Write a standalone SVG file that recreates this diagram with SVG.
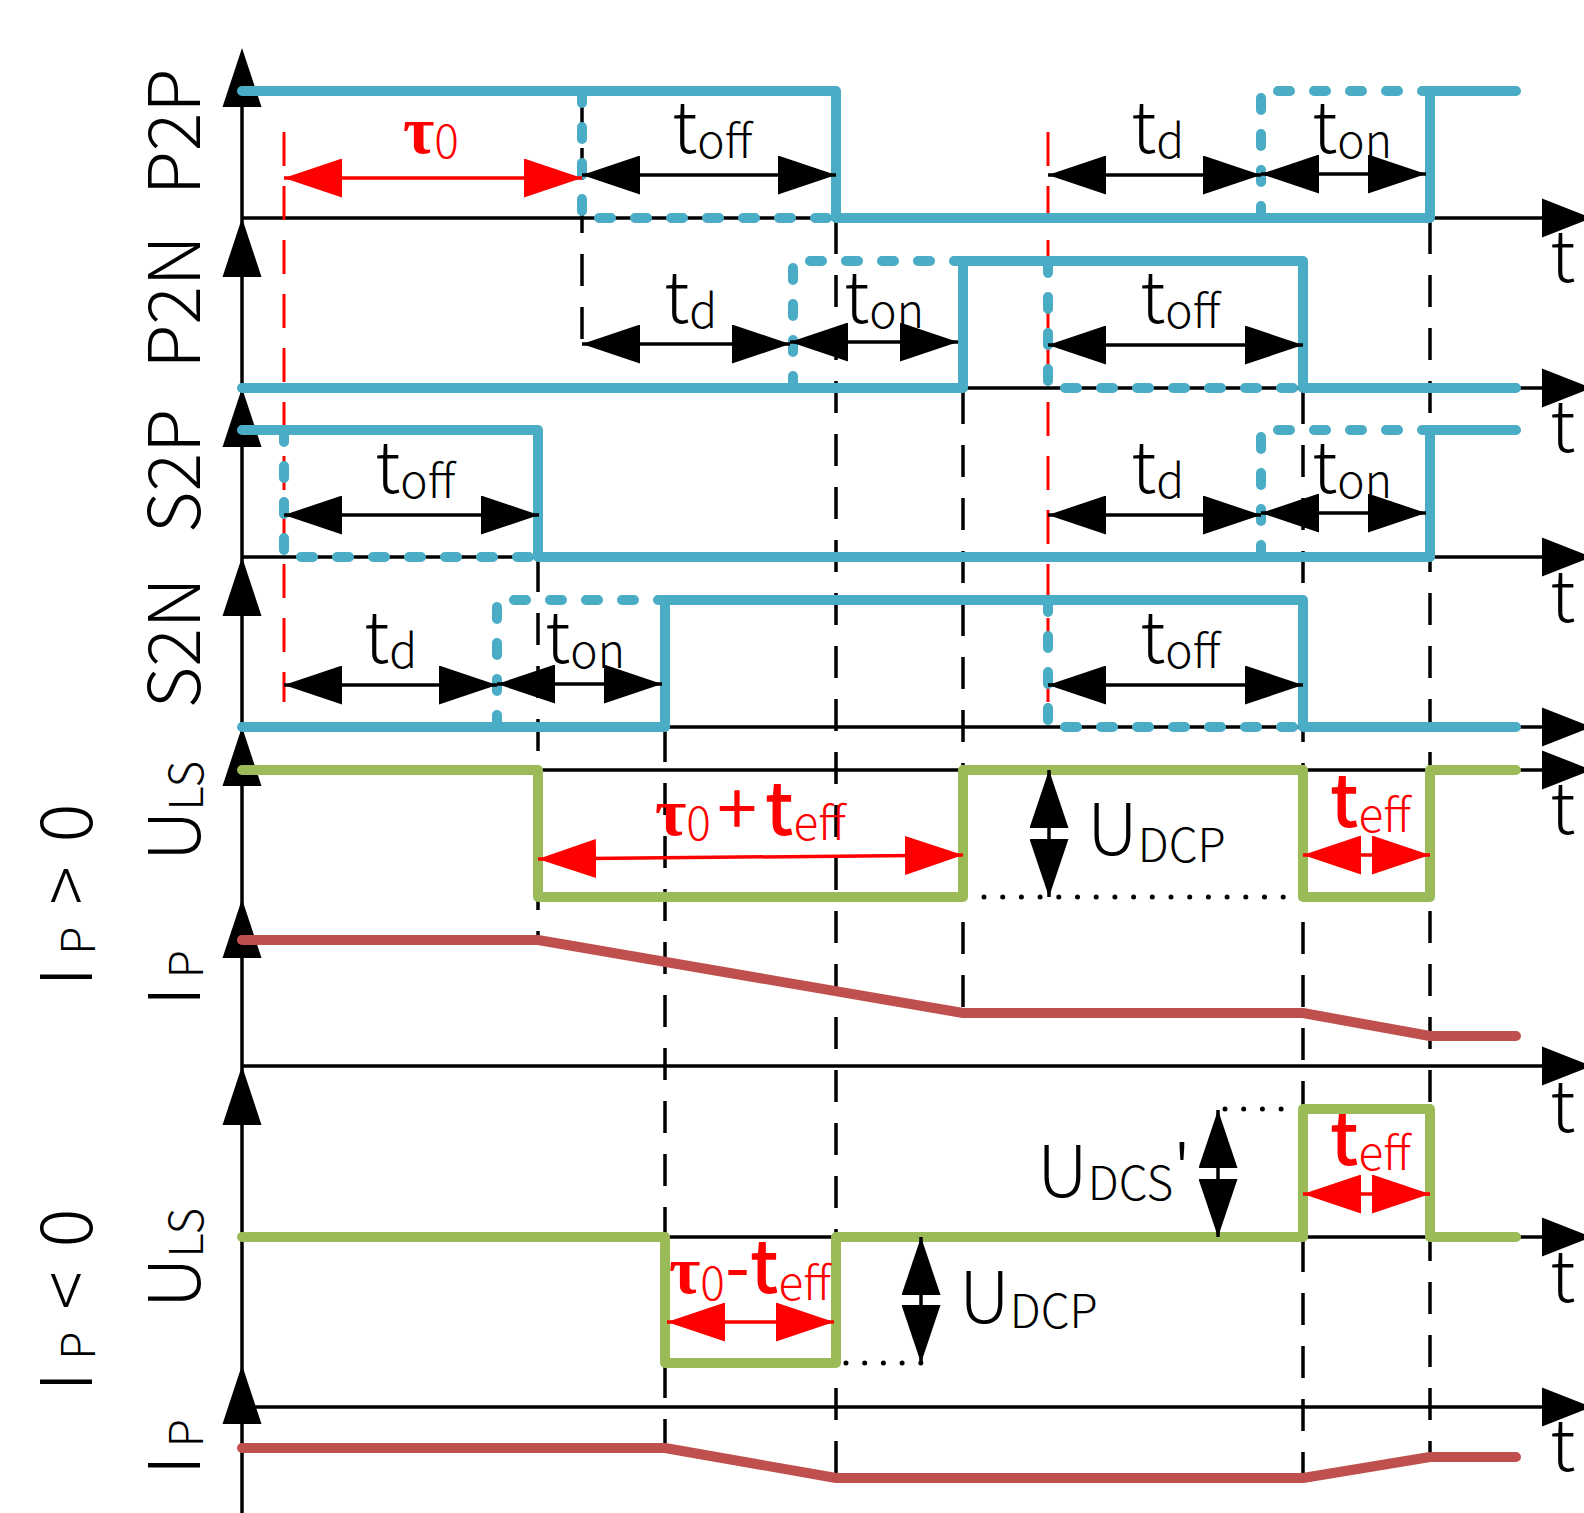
<svg xmlns="http://www.w3.org/2000/svg" xmlns:xlink="http://www.w3.org/1999/xlink" width="1584" height="1513" viewBox="0 0 1584 1513">
<style>
.ax{stroke:#000;stroke-width:3.5;fill:none}
.gd{stroke:#000;stroke-width:3.5;fill:none;stroke-dasharray:32 21}
.rd{stroke:#ff0000;stroke-width:3;fill:none;stroke-dasharray:34 20}
.bl{stroke:#4bacc6;stroke-width:10;fill:none;stroke-linecap:round;stroke-linejoin:round}
.bd{stroke:#4bacc6;stroke-width:10;fill:none;stroke-linecap:round;stroke-linejoin:round;stroke-dasharray:12 24}
.gr{stroke:#9bbb59;stroke-width:10;fill:none;stroke-linecap:round;stroke-linejoin:round}
.rb{stroke:#c0504d;stroke-width:10;fill:none;stroke-linecap:round;stroke-linejoin:round}
.dA{stroke:#000;stroke-width:3.5;fill:none;marker-start:url(#aB);marker-end:url(#aB)}
.rA{stroke:#ff0000;stroke-width:3.5;fill:none;marker-start:url(#aR);marker-end:url(#aR)}
.dot{stroke:#000;stroke-width:5;fill:none;stroke-linecap:round;stroke-dasharray:0 18.7}
text{font-family:'Noto Sans CJK JP','Noto Sans',sans-serif;font-weight:300;font-size:72px;fill:#000}
.sub{font-size:46px}
.red{fill:#ff0000}
.tau{font-family:'Liberation Serif',serif;font-weight:bold;font-size:68px}
.bt{font-weight:500}
.pl{font-weight:400}
</style>
<defs>
<marker id="aB" markerUnits="userSpaceOnUse" markerWidth="58" markerHeight="39" viewBox="0 0 58 39" refX="58" refY="19.5" orient="auto-start-reverse"><path d="M0,0 L58,19.5 L0,39 Z" fill="#000"/></marker>
<marker id="aR" markerUnits="userSpaceOnUse" markerWidth="58" markerHeight="39" viewBox="0 0 58 39" refX="58" refY="19.5" orient="auto-start-reverse"><path d="M0,0 L58,19.5 L0,39 Z" fill="#ff0000"/></marker>
<path id="ahUp" d="M0,0 L19.5,59 L-19.5,59 Z" fill="#000"/>
<path id="ahR" d="M0,0 L-50,-19.5 L-50,19.5 Z" fill="#000"/>
</defs>

<g id="axes">
<line class="ax" x1="242" y1="60" x2="242" y2="1513"/>
<line class="ax" x1="242" y1="218" x2="1560" y2="218"/>
<line class="ax" x1="242" y1="388" x2="1560" y2="388"/>
<line class="ax" x1="242" y1="557" x2="1560" y2="557"/>
<line class="ax" x1="242" y1="727" x2="1560" y2="727"/>
<line class="ax" x1="242" y1="770" x2="1560" y2="770"/>
<line class="ax" x1="242" y1="1066" x2="1560" y2="1066"/>
<line class="ax" x1="242" y1="1237" x2="1560" y2="1237"/>
<line class="ax" x1="242" y1="1407" x2="1560" y2="1407"/>
<use xlink:href="#ahUp" x="242" y="48"/>
<use xlink:href="#ahUp" x="242" y="218"/>
<use xlink:href="#ahUp" x="242" y="388"/>
<use xlink:href="#ahUp" x="242" y="557"/>
<use xlink:href="#ahUp" x="242" y="727"/>
<use xlink:href="#ahUp" x="242" y="899"/>
<use xlink:href="#ahUp" x="242" y="1066"/>
<use xlink:href="#ahUp" x="242" y="1365"/>
<use xlink:href="#ahR" x="1592" y="218"/>
<use xlink:href="#ahR" x="1592" y="388"/>
<use xlink:href="#ahR" x="1592" y="557"/>
<use xlink:href="#ahR" x="1592" y="727"/>
<use xlink:href="#ahR" x="1592" y="770"/>
<use xlink:href="#ahR" x="1592" y="1066"/>
<use xlink:href="#ahR" x="1592" y="1237"/>
<use xlink:href="#ahR" x="1592" y="1407"/>
</g>

<g id="guides">
<line class="gd" x1="582" y1="95" x2="582" y2="344"/>
<line class="gd" x1="538" y1="560" x2="538" y2="940"/>
<line class="gd" x1="665" y1="730" x2="665" y2="1448"/>
<line class="gd" x1="836" y1="222" x2="836" y2="1478"/>
<line class="gd" x1="963" y1="392" x2="963" y2="1013"/>
<line class="gd" x1="1303" y1="392" x2="1303" y2="1478"/>
<line class="gd" x1="1430" y1="222" x2="1430" y2="1457"/>
<line class="rd" x1="284" y1="132" x2="284" y2="702"/>
<line class="rd" x1="1048" y1="132" x2="1048" y2="702"/>
</g>

<g id="P2P">
<path class="bl" d="M242,91 H836 V218 H1430 V91 H1516"/>
<path class="bd" d="M582,91 V218 H836"/>
<path class="bd" d="M1261,218 V91 H1430"/>
</g>
<g id="P2N">
<path class="bl" d="M242,388 H963 V261 H1303 V388 H1516"/>
<path class="bd" d="M793,388 V261 H963"/>
<path class="bd" d="M1048,261 V388 H1303"/>
</g>
<g id="S2P">
<path class="bl" d="M242,430 H538 V557 H1430 V430 H1516"/>
<path class="bd" d="M284,430 V557 H538"/>
<path class="bd" d="M1261,557 V430 H1430"/>
</g>
<g id="S2N">
<path class="bl" d="M242,727 H665 V600 H1303 V727 H1516"/>
<path class="bd" d="M497,727 V600 H665"/>
<path class="bd" d="M1048,600 V727 H1303"/>
</g>
<g id="ULS_pos">
<path class="gr" d="M242,770 H538 V897 H963 V770 H1303 V897 H1430 V770 H1516"/>
</g>
<g id="IP_pos">
<path class="rb" d="M242,940 H538 L963,1013 H1303 L1430,1036 H1516"/>
</g>
<g id="ULS_neg">
<path class="gr" d="M242,1237 H665 V1363 H836 V1237 H1303 V1109 H1430 V1237 H1516"/>
</g>
<g id="IP_neg">
<path class="rb" d="M242,1448 H665 L836,1478 H1303 L1430,1457 H1516"/>
</g>

<g id="connectors">
<line class="dA" x1="582" y1="175" x2="836" y2="175"/>
<line class="dA" x1="1048" y1="175" x2="1261" y2="175"/>
<line class="dA" x1="1261" y1="174" x2="1426" y2="174"/>
<line class="dA" x1="582" y1="344" x2="790" y2="344"/>
<line class="dA" x1="790" y1="342" x2="958" y2="342"/>
<line class="dA" x1="1048" y1="345" x2="1303" y2="345"/>
<line class="dA" x1="284" y1="515" x2="539" y2="515"/>
<line class="dA" x1="1048" y1="515" x2="1261" y2="515"/>
<line class="dA" x1="1261" y1="513" x2="1426" y2="513"/>
<line class="dA" x1="284" y1="685" x2="497" y2="685"/>
<line class="dA" x1="497" y1="684" x2="662" y2="684"/>
<line class="dA" x1="1048" y1="685" x2="1303" y2="685"/>
<line class="dA" x1="1049" y1="770" x2="1049" y2="897"/>
<line class="dA" x1="1218" y1="1110" x2="1218" y2="1237"/>
<line class="dA" x1="921" y1="1237" x2="921" y2="1363"/>
<line class="rA" x1="284" y1="178" x2="582" y2="178"/>
<line class="rA" x1="538" y1="859" x2="963" y2="855"/>
<line class="rA" x1="1303" y1="855" x2="1430" y2="855"/>
<line class="rA" x1="667" y1="1322" x2="834" y2="1322"/>
<line class="rA" x1="1303" y1="1194" x2="1430" y2="1194"/>
<line class="dot" x1="984" y1="897" x2="1290" y2="897"/>
<line class="dot" x1="1225" y1="1109" x2="1285" y2="1109"/>
<line class="dot" x1="846" y1="1363" x2="925" y2="1363"/>
</g>

<g id="labels">
<text x="403" y="153"><tspan class="tau red">τ</tspan><tspan class="sub red" dy="5">0</tspan></text>
<text x="672" y="153">t<tspan class="sub" dy="5">off</tspan></text>
<text x="1131" y="153">t<tspan class="sub" dy="5">d</tspan></text>
<text x="1312" y="153">t<tspan class="sub" dy="5">on</tspan></text>
<text x="664" y="323">t<tspan class="sub" dy="5">d</tspan></text>
<text x="844" y="323">t<tspan class="sub" dy="5">on</tspan></text>
<text x="1140" y="323">t<tspan class="sub" dy="5">off</tspan></text>
<text x="375" y="493">t<tspan class="sub" dy="5">off</tspan></text>
<text x="1131" y="493">t<tspan class="sub" dy="5">d</tspan></text>
<text x="1312" y="493">t<tspan class="sub" dy="5">on</tspan></text>
<text x="364" y="663">t<tspan class="sub" dy="5">d</tspan></text>
<text x="545" y="663">t<tspan class="sub" dy="5">on</tspan></text>
<text x="1140" y="663">t<tspan class="sub" dy="5">off</tspan></text>

<text x="655" y="835"><tspan class="tau red">τ</tspan><tspan class="sub red" dy="5">0</tspan><tspan class="red pl" dy="-5" dx="6">+</tspan><tspan class="red bt" dx="8">t</tspan><tspan class="sub red" dy="5">eff</tspan></text>
<text x="1330" y="827"><tspan class="red bt">t</tspan><tspan class="sub red" dy="5">eff</tspan></text>
<text x="1087" y="855">U<tspan class="sub" dy="7">DCP</tspan></text>

<text x="1037" y="1197">U<tspan class="sub" dy="3">DCS</tspan><tspan dy="-3">'</tspan></text>
<text x="1330" y="1165"><tspan class="red bt">t</tspan><tspan class="sub red" dy="5">eff</tspan></text>
<text x="669" y="1293"><tspan class="tau red">τ</tspan><tspan class="sub red" dy="7">0</tspan><tspan class="red pl" dy="-7">-</tspan><tspan class="red bt">t</tspan><tspan class="sub red" dy="7">eff</tspan></text>
<text x="959" y="1323">U<tspan class="sub" dy="5">DCP</tspan></text>

<text x="1550" y="282">t</text>
<text x="1550" y="452">t</text>
<text x="1550" y="622">t</text>
<text x="1550" y="834">t</text>
<text x="1550" y="1132">t</text>
<text x="1550" y="1302">t</text>
<text x="1550" y="1471">t</text>

<text transform="translate(200,132) rotate(-90)" text-anchor="middle">P2P</text>
<text transform="translate(200,302) rotate(-90)" text-anchor="middle">P2N</text>
<text transform="translate(200,471) rotate(-90)" text-anchor="middle">S2P</text>
<text transform="translate(200,643) rotate(-90)" text-anchor="middle">S2N</text>
<text transform="translate(200,811) rotate(-90)" text-anchor="middle">U<tspan class="sub" dy="3">LS</tspan></text>
<text transform="translate(200,978) rotate(-90)" text-anchor="middle">I<tspan class="sub" dy="3" dx="8">P</tspan></text>
<text transform="translate(200,1258) rotate(-90)" text-anchor="middle">U<tspan class="sub" dy="3">LS</tspan></text>
<text transform="translate(200,1447) rotate(-90)" text-anchor="middle">I<tspan class="sub" dy="3" dx="8">P</tspan></text>
<text transform="translate(92,895) rotate(-90)" text-anchor="middle">I<tspan class="sub" dy="3" dx="12">P</tspan><tspan dy="-3" dx="22">&gt;</tspan><tspan dx="24">0</tspan></text>
<text transform="translate(92,1300) rotate(-90)" text-anchor="middle">I<tspan class="sub" dy="3" dx="12">P</tspan><tspan dy="-3" dx="22">&lt;</tspan><tspan dx="24">0</tspan></text>
</g>
</svg>
